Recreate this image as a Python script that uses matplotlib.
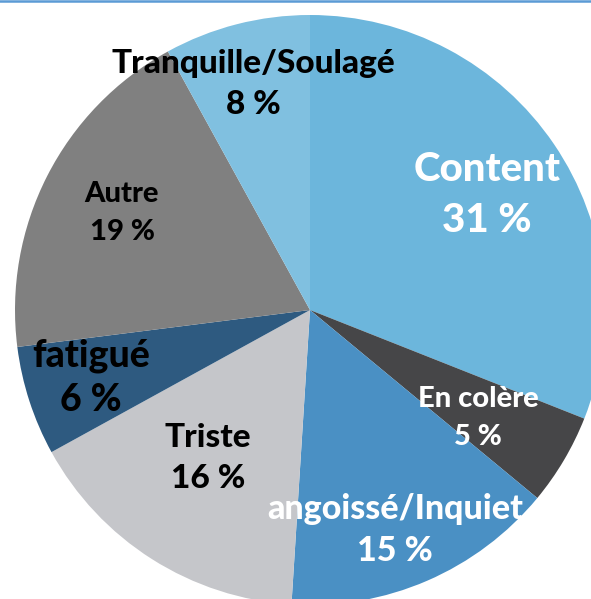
import matplotlib
matplotlib.use("Agg")
import matplotlib.pyplot as plt

# slices clockwise from 12 o'clock
labels = ["Content", "En colère", "angoissé/Inquiet", "Triste", "fatigué", "Autre", "Tranquille/Soulagé"]
shares = [31, 5, 15, 16, 6, 19, 8]
colors = ["#6cb6dc", "#464648", "#4a90c4", "#c5c6ca", "#2e5a80", "#808080", "#80c0e0"]
text_colors = ["white", "white", "white", "black", "black", "black", "black"]

# label placement in pixels (x, y from top) and font size
label_pos = [(487, 195), (478, 418), (395, 530), (208, 458), (91, 378), (122, 213), (253, 84)]
label_size = [29, 21, 24.5, 24, 27, 21, 24]
label_gap = [1.49, 1.54, 1.35, 1.53, 1.35, 1.55, 1.47]

W, H = 591, 599
cx, cy, r = 310, 310, 295

fig = plt.figure(figsize=(W / 100, H / 100), dpi=100)
ax = fig.add_axes([0, 0, 1, 1])
ax.pie(shares, colors=colors, startangle=90, counterclock=False,
       radius=1, center=(0, 0), wedgeprops=dict(linewidth=0))
ax.set_xlim(-cx / r, (W - cx) / r)
ax.set_ylim((cy - H) / r, cy / r)
ax.set_aspect("equal")
ax.axis("off")

for lab, val, tc, (px, py), fs, ls in zip(labels, shares, text_colors, label_pos, label_size, label_gap):
    fig.text(px / W, 1 - py / H, f"{lab}\n{val} %", ha="center", va="center",
             multialignment="center", color=tc, fontsize=fs, fontweight="black",
             family=["Lato", "DejaVu Sans"], linespacing=ls)

# thin blue rule along the top edge
fig.add_artist(plt.Line2D([0, 1], [1 - 1 / H, 1 - 1 / H], transform=fig.transFigure,
                          color="#5b9bd5", linewidth=1.8))

fig.savefig("out.png", dpi=100)
